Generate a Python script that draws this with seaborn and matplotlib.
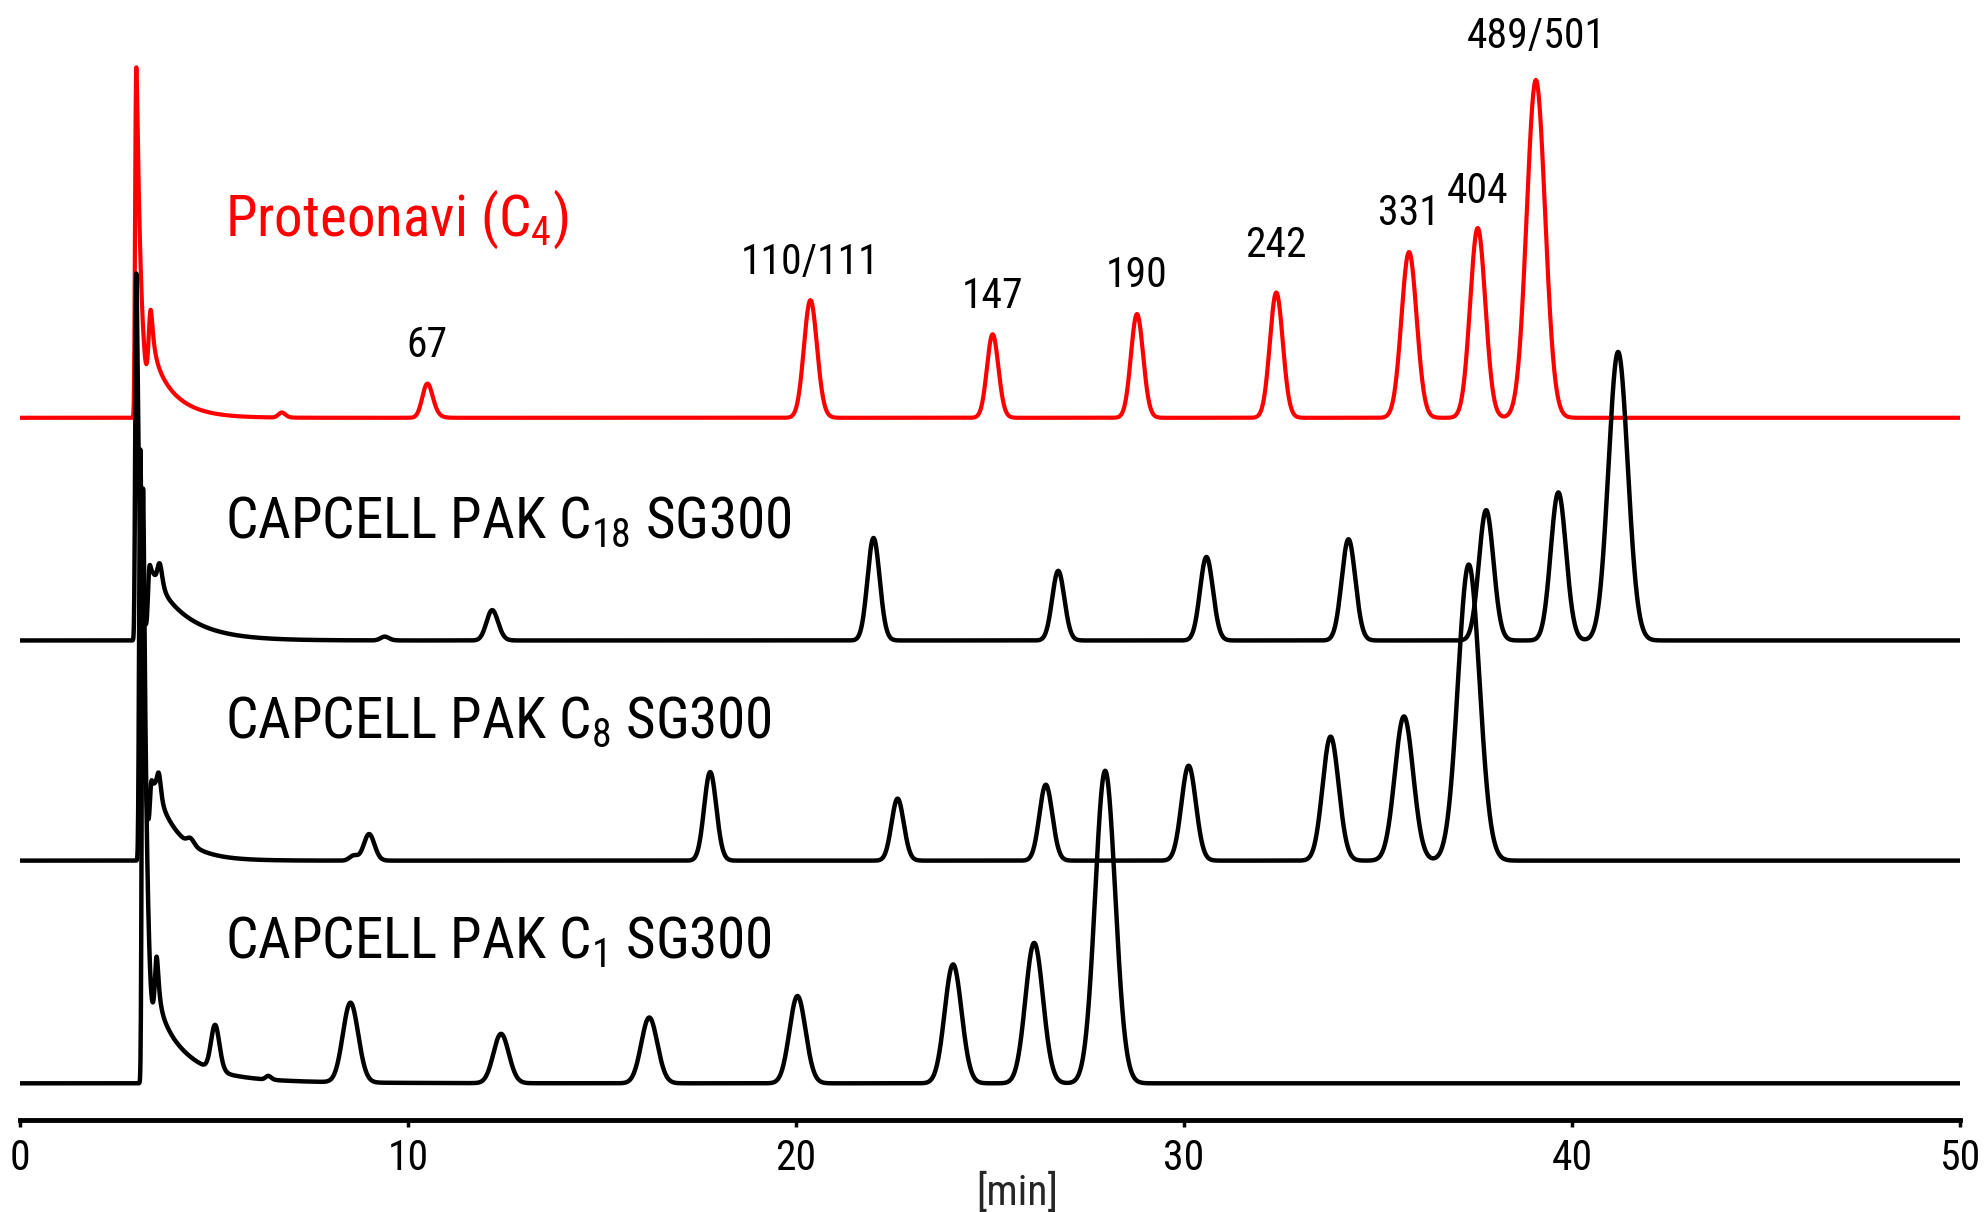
import numpy as np
import pandas as pd
import matplotlib
matplotlib.use("Agg")
import matplotlib.pyplot as plt
import seaborn as sns
from matplotlib import font_manager

# ---------------------------------------------------------------------------
# Peak tables (retention time [min], height, sigma [min], tailing tau [min])
# Heights are in arbitrary detector units; each trace is stacked by an offset.
# ---------------------------------------------------------------------------
proteonavi_rt = [3.00, 3.38, 3.37, 6.75, 10.50, 20.37, 25.07, 28.79, 32.38, 35.80, 37.57, 39.07]
proteonavi_height = [277, 50, 22, 4, 27, 93, 66, 82, 99, 131, 150, 267]
proteonavi_sigma = [0.02, 0.04, 0.03, 0.08, 0.12, 0.16, 0.14, 0.15, 0.16, 0.19, 0.19, 0.23]
proteonavi_tau = [0.12, 0.60, 0.05, 0.05, 0.08, 0.06, 0.05, 0.05, 0.05, 0.05, 0.05, 0.06]

c18_rt = [3.00, 3.33, 3.60, 3.45, 9.40, 12.17, 22.00, 26.76, 30.58, 34.24, 37.79, 39.65, 41.19]
c18_height = [290, 34, 18, 50, 3, 24, 81, 55, 66, 80, 103, 117, 228]
c18_sigma = [0.02, 0.03, 0.05, 0.05, 0.10, 0.14, 0.15, 0.15, 0.16, 0.17, 0.18, 0.19, 0.24]
c18_tau = [0.07, 0.03, 0.05, 0.85, 0.05, 0.06, 0.05, 0.05, 0.05, 0.05, 0.06, 0.06, 0.07]

c8_rt = [3.10, 3.38, 3.58, 3.50, 4.40, 8.60, 9.00, 17.79, 22.62, 26.44, 30.12, 33.78, 35.67, 37.34]
c8_height = [325, 32, 18, 55, 5, 4, 21, 70, 49, 60, 75, 98, 114, 234]
c8_sigma = [0.02, 0.03, 0.04, 0.05, 0.08, 0.10, 0.13, 0.15, 0.15, 0.16, 0.18, 0.20, 0.23, 0.27]
c8_tau = [0.08, 0.03, 0.04, 0.60, 0.05, 0.05, 0.05, 0.05, 0.05, 0.05, 0.05, 0.06, 0.06, 0.07]

c1_rt = [3.17, 3.52, 3.55, 3.60, 5.03, 6.40, 8.52, 12.40, 16.22, 20.04, 24.05, 26.14, 27.97]
c1_height = [470, 28, 50, 8, 36, 3, 63, 39, 52, 69, 94, 111, 247]
c1_sigma = [0.02, 0.03, 0.05, 0.10, 0.10, 0.06, 0.19, 0.19, 0.20, 0.20, 0.21, 0.22, 0.25]
c1_tau = [0.10, 0.04, 0.70, 2.00, 0.05, 0.05, 0.06, 0.06, 0.06, 0.06, 0.06, 0.06, 0.07]

trace_names = ["Proteonavi (C$_4$)", "CAPCELL PAK C$_{18}$ SG300",
               "CAPCELL PAK C$_8$ SG300", "CAPCELL PAK C$_1$ SG300"]
trace_offsets = [555, 379, 205, 29]
trace_colors = ["#ff0000", "#000000", "#000000", "#000000"]
name_y = [699, 460, 302, 128]

peak_labels = ["67", "110/111", "147", "190", "242", "331", "404", "489/501"]
peak_label_rt = [10.50, 20.37, 25.07, 28.79, 32.38, 35.80, 37.57, 39.07]
peak_label_height = [27, 93, 66, 82, 99, 131, 150, 267]
label_gap = [21, 21, 21, 21, 28, 21, 20, 25]

x_ticks = [0, 10, 20, 30, 40, 50]

# ---------------------------------------------------------------------------
DT = 0.005
time = np.arange(0.0, 50.0 + DT / 2, DT)


def tailed_peak(t, rt, h, s, tau):
    """Gaussian convolved with an exponential tail, apex placed at rt."""
    g = np.exp(-0.5 * ((t - rt) / s) ** 2)
    if tau > 0:
        k = np.exp(-np.arange(0.0, 8 * tau, DT) / tau)
        y = np.convolve(g, k)[: t.size]
        shift = rt - t[np.argmax(y)]
        y = np.interp(t - shift, t, y, left=0.0, right=0.0)
    else:
        y = g
    return h * y / y.max()


def chromatogram(rts, heights, sigmas, taus):
    sig = np.zeros_like(time)
    for rt, h, s, tau in zip(rts, heights, sigmas, taus):
        sig += tailed_peak(time, rt, h, s, tau)
    return sig


tables = [
    (proteonavi_rt, proteonavi_height, proteonavi_sigma, proteonavi_tau),
    (c18_rt, c18_height, c18_sigma, c18_tau),
    (c8_rt, c8_height, c8_sigma, c8_tau),
    (c1_rt, c1_height, c1_sigma, c1_tau),
]

frames = []
for name, tab, off in zip(trace_names, tables, trace_offsets):
    frames.append(pd.DataFrame({"time": time,
                                "signal": chromatogram(*tab) + off,
                                "column": name}))
df = pd.concat(frames, ignore_index=True)

# ---------------------------------------------------------------------------
sns.set_theme(style="white")
available = {f.name for f in font_manager.fontManager.ttflist}
family = next(n for n in ["Liberation Sans Narrow", "Roboto Condensed",
                          "Noto Sans CJK JP", "DejaVu Sans"] if n in available)
plt.rcParams["font.family"] = [family, "DejaVu Sans"]
plt.rcParams["mathtext.fontset"] = "custom"
plt.rcParams["mathtext.rm"] = family
plt.rcParams["mathtext.it"] = family
plt.rcParams["mathtext.bf"] = family
plt.rcParams["mathtext.default"] = "regular"

fig = plt.figure(figsize=(19.84, 12.12), dpi=100)
ax = fig.add_axes([20 / 1984, 92 / 1212, 1940 / 1984, 1120 / 1212])

for name, color in zip(trace_names, trace_colors):
    sub = df[df["column"] == name]
    sns.lineplot(data=sub, x="time", y="signal", color=color,
                 linewidth=3.0 if color != "#000000" else 3.2,
                 estimator=None, sort=False, ax=ax, legend=False)

# column names
for name, color, y in zip(trace_names, trace_colors, name_y):
    ax.text(5.29, y, name, color=color, fontsize=41, ha="left", va="baseline")

# molecular-weight labels above the Proteonavi peaks
for lab, rt, h, gap in zip(peak_labels, peak_label_rt, peak_label_height, label_gap):
    ax.text(rt, trace_offsets[0] + h + gap, lab, color="black", fontsize=30,
            ha="center", va="baseline", clip_on=False)

ax.set_xlim(0, 50)
ax.set_ylim(0, 885.2)
ax.set_xticks(x_ticks)
ax.set_xticklabels([str(v) for v in x_ticks])
ax.set_yticks([])
ax.set_ylabel("")
ax.set_xlabel("[min]", fontsize=30)
ax.xaxis.set_label_coords(0.514, -0.047)
ax.xaxis.label.set_va("top")

for side in ["left", "right", "top"]:
    ax.spines[side].set_visible(False)
ax.spines["bottom"].set_linewidth(3.5)
ax.spines["bottom"].set_color("black")
ax.tick_params(axis="x", direction="out", length=5, width=2.5, pad=8,
               labelsize=30, colors="black", bottom=True)

fig.savefig("out.png", dpi=100)
